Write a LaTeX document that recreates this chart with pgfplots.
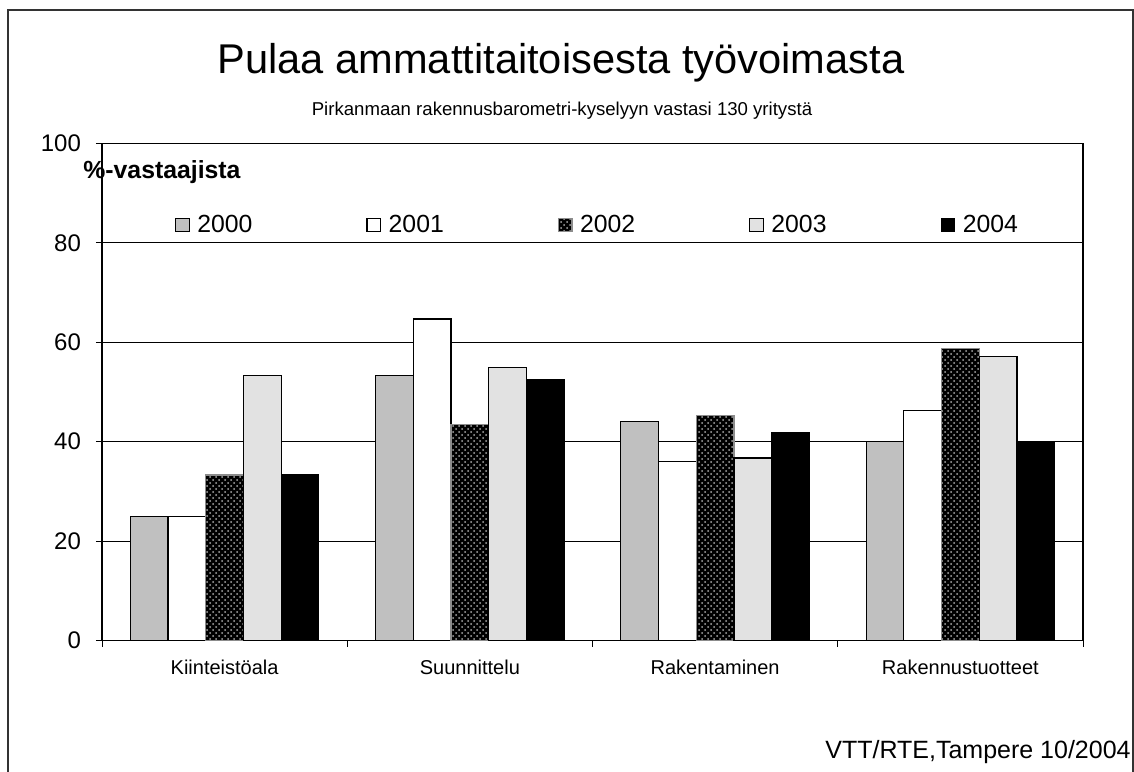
\documentclass[border=0pt]{standalone}
\usepackage{pgfplots}
\pgfplotsset{compat=1.18}
\usepackage{fontspec}
\setmainfont{Liberation Sans}
\usetikzlibrary{patterns}
\definecolor{c2000}{RGB}{192,192,192}
\definecolor{c2003}{RGB}{226,226,226}
\definecolor{dotc}{RGB}{170,170,170}
\begin{document}
\begin{tikzpicture}
\useasboundingbox (0,0) rectangle (567pt,385.5pt);
\draw[line width=0.6pt, black!80] (4pt,-2pt) -- (4pt,380.5pt) -- (566.5pt,380.5pt) -- (566.5pt,-2pt);
\node[font=\fontsize{20.8}{24}\selectfont] at (280.5pt,354pt) {Pulaa ammattitaitoisesta työvoimasta};
\node[font=\fontsize{9.3}{11}\selectfont] at (281pt,330pt) {Pirkanmaan rakennusbarometri-kyselyyn vastasi 130 yritystä};
\node[font=\fontsize{12.4}{14}\selectfont\bfseries, anchor=west, inner sep=0pt] at (41.5pt,299.5pt) {\%-vastaajista};
\node[font=\fontsize{12.5}{14}\selectfont, anchor=east, inner sep=0pt] at (565.5pt,9.5pt) {VTT/RTE,Tampere 10/2004};
\begin{axis}[
  at={(51pt,65.25pt)}, anchor=south west,
  scale only axis, width=490.5pt, height=248.5pt,
  ybar=0pt, bar width=18.85pt,
  xmin=-0.5, xmax=3.5, ymin=0, ymax=100,
  xtick={0,1,2,3},
  xticklabels={Kiinteistöala,Suunnittelu,Rakentaminen,Rakennustuotteet},
  major x tick style={draw=none},
  minor xtick={-0.5,0.5,1.5,2.5,3.5},
  minor tick length=3pt,
  ytick={0,20,40,60,80,100},
  major tick length=3pt,
  tick align=outside, tick pos=left,
  ymajorgrids, grid style={black, line width=0.5pt},
  axis line style={black, line width=0.6pt},
  tick style={black, line width=0.5pt},
  /pgf/number format/assume math mode=true,
  yticklabel style={font=\fontsize{12}{14}\selectfont, xshift=-4pt},
  xticklabel style={font=\fontsize{10}{12}\selectfont, yshift=-3pt},
  legend columns=5,
  legend style={draw=none, fill=none, at={(0.068,0.836)}, anchor=west,
    font=\fontsize{12.4}{14}\selectfont,
    /tikz/every even column/.append style={column sep=55pt}},
  legend image code/.code={\draw[#1] (0pt,-3.4pt) rectangle (6.8pt,3.4pt); \path (8.5pt,0pt);},
]
\addplot[draw=black, line width=0.6pt, fill=c2000] coordinates {(0,25) (1,53.3) (2,44.0) (3,40.0)};
\addlegendentry{2000}
\addplot[draw=black, line width=0.6pt, fill=white] coordinates {(0,25) (1,64.7) (2,36.0) (3,46.2)};
\addlegendentry{2001}
\addplot[draw=black!45, line width=0.6pt, fill=black, postaction={pattern=crosshatch dots, pattern color=dotc}] coordinates {(0,33.3) (1,43.5) (2,45.2) (3,58.7)};
\addlegendentry{2002}
\addplot[draw=black, line width=0.6pt, fill=c2003] coordinates {(0,53.3) (1,55.0) (2,36.7) (3,57.1)};
\addlegendentry{2003}
\addplot[draw=black, line width=0.6pt, fill=black] coordinates {(0,33.4) (1,52.4) (2,41.8) (3,40.1)};
\addlegendentry{2004}
\end{axis}
\end{tikzpicture}
\end{document}
